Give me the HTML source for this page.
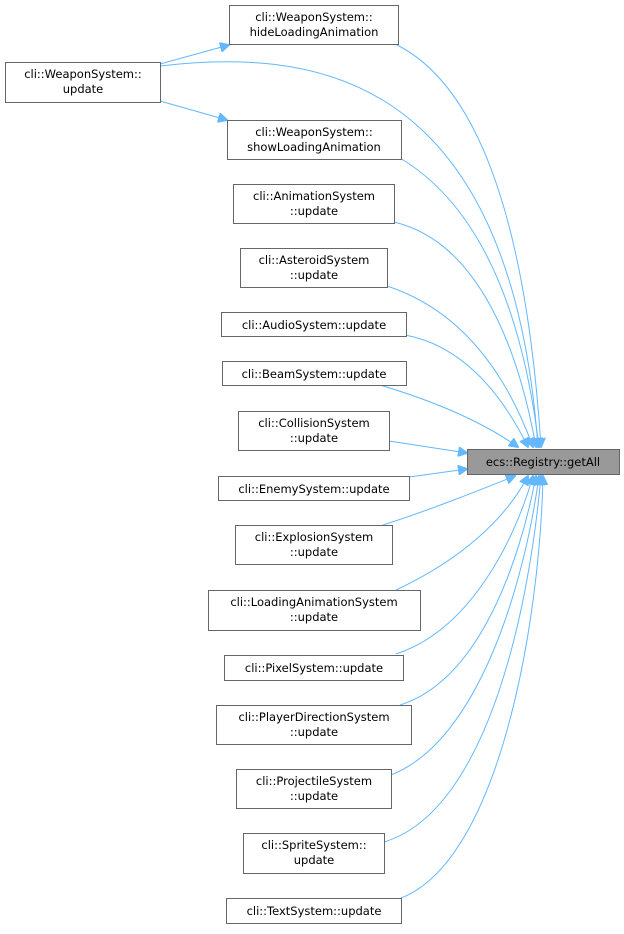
<!DOCTYPE html>
<html><head><meta charset="utf-8"><style>
body{margin:0;background:#fff;width:624px;height:929px;overflow:hidden}
text{font-family:"DejaVu Sans","Liberation Sans",sans-serif;font-size:11.5px;fill:#000;text-anchor:middle}
.n{fill:#fff;stroke:#666;stroke-width:1}
.e{fill:none;stroke:#63b8ff;stroke-width:1}
</style></head><body>
<svg width="624" height="929" viewBox="0 0 624 929" xmlns="http://www.w3.org/2000/svg">
<defs><marker id="a" viewBox="0 0 10 10" refX="9" refY="5" markerWidth="10" markerHeight="10" markerUnits="userSpaceOnUse" orient="auto"><path d="M0,0 L10,5 L0,10 z" fill="#63b8ff" stroke="#63b8ff"/></marker></defs>
<path class="e" marker-end="url(#a)" d="M160,64 L229,45"/>
<path class="e" marker-end="url(#a)" d="M160,101 L227,120"/>
<path class="e" marker-end="url(#a)" d="M160,66 C300,50 510,60 538,447"/>
<path class="e" marker-end="url(#a)" d="M395,44 C470,80 525,200 541,447"/>
<path class="e" marker-end="url(#a)" d="M400,158 C470,200 520,290 539,447"/>
<path class="e" marker-end="url(#a)" d="M394,222 C470,240 515,330 536,447"/>
<path class="e" marker-end="url(#a)" d="M387,286 C460,310 505,370 533,447"/>
<path class="e" marker-end="url(#a)" d="M405,335 C460,345 500,390 528,447"/>
<path class="e" marker-end="url(#a)" d="M380,385 C430,400 480,420 518,447"/>
<path class="e" marker-end="url(#a)" d="M389,441 L467,453"/>
<path class="e" marker-end="url(#a)" d="M409,477 L467,469"/>
<path class="e" marker-end="url(#a)" d="M383,525 C430,510 480,490 515,476"/>
<path class="e" marker-end="url(#a)" d="M396,590 C460,560 505,520 528,476"/>
<path class="e" marker-end="url(#a)" d="M396,654 C470,630 515,540 533,476"/>
<path class="e" marker-end="url(#a)" d="M400,705 C480,680 520,560 536,476"/>
<path class="e" marker-end="url(#a)" d="M391,775 C480,740 525,580 539,476"/>
<path class="e" marker-end="url(#a)" d="M384,842 C490,810 530,600 541,476"/>
<path class="e" marker-end="url(#a)" d="M401,898 C500,860 540,620 543,476"/>
<rect class="n" x="229.5" y="5.5" width="169" height="39"/><text x="314" y="21">cli::WeaponSystem::</text><text x="314" y="36">hideLoadingAnimation</text>
<rect class="n" x="5.5" y="62.5" width="155" height="40"/><text x="83" y="78">cli::WeaponSystem::</text><text x="83" y="93">update</text>
<rect class="n" x="227.5" y="120.5" width="174" height="39"/><text x="314" y="136">cli::WeaponSystem::</text><text x="314" y="151">showLoadingAnimation</text>
<rect class="n" x="233.5" y="184.5" width="161" height="39"/><text x="314" y="200">cli::AnimationSystem</text><text x="314" y="215">::update</text>
<rect class="n" x="240.5" y="248.5" width="147" height="39"/><text x="314" y="264">cli::AsteroidSystem</text><text x="314" y="279">::update</text>
<rect class="n" x="221.5" y="312.5" width="185" height="24"/><text x="314" y="329">cli::AudioSystem::update</text>
<rect class="n" x="222.5" y="361.5" width="184" height="24"/><text x="314" y="378">cli::BeamSystem::update</text>
<rect class="n" x="238.5" y="411.5" width="151" height="39"/><text x="314" y="427">cli::CollisionSystem</text><text x="314" y="442">::update</text>
<rect x="467.5" y="449.5" width="152" height="25" fill="#999" stroke="#666"/><text x="543" y="466">ecs::Registry::getAll</text>
<rect class="n" x="218.5" y="476.5" width="191" height="24"/><text x="314" y="493">cli::EnemySystem::update</text>
<rect class="n" x="235.5" y="525.5" width="157" height="39"/><text x="314" y="541">cli::ExplosionSystem</text><text x="314" y="556">::update</text>
<rect class="n" x="208.5" y="590.5" width="212" height="40"/><text x="314" y="606">cli::LoadingAnimationSystem</text><text x="314" y="621">::update</text>
<rect class="n" x="224.5" y="655.5" width="179" height="25"/><text x="314" y="672">cli::PixelSystem::update</text>
<rect class="n" x="216.5" y="705.5" width="195" height="39"/><text x="314" y="721">cli::PlayerDirectionSystem</text><text x="314" y="736">::update</text>
<rect class="n" x="236.5" y="769.5" width="155" height="39"/><text x="314" y="785">cli::ProjectileSystem</text><text x="314" y="800">::update</text>
<rect class="n" x="243.5" y="833.5" width="141" height="40"/><text x="314" y="849">cli::SpriteSystem::</text><text x="314" y="864">update</text>
<rect class="n" x="226.5" y="898.5" width="175" height="25"/><text x="314" y="915">cli::TextSystem::update</text>
</svg>
</body></html>
